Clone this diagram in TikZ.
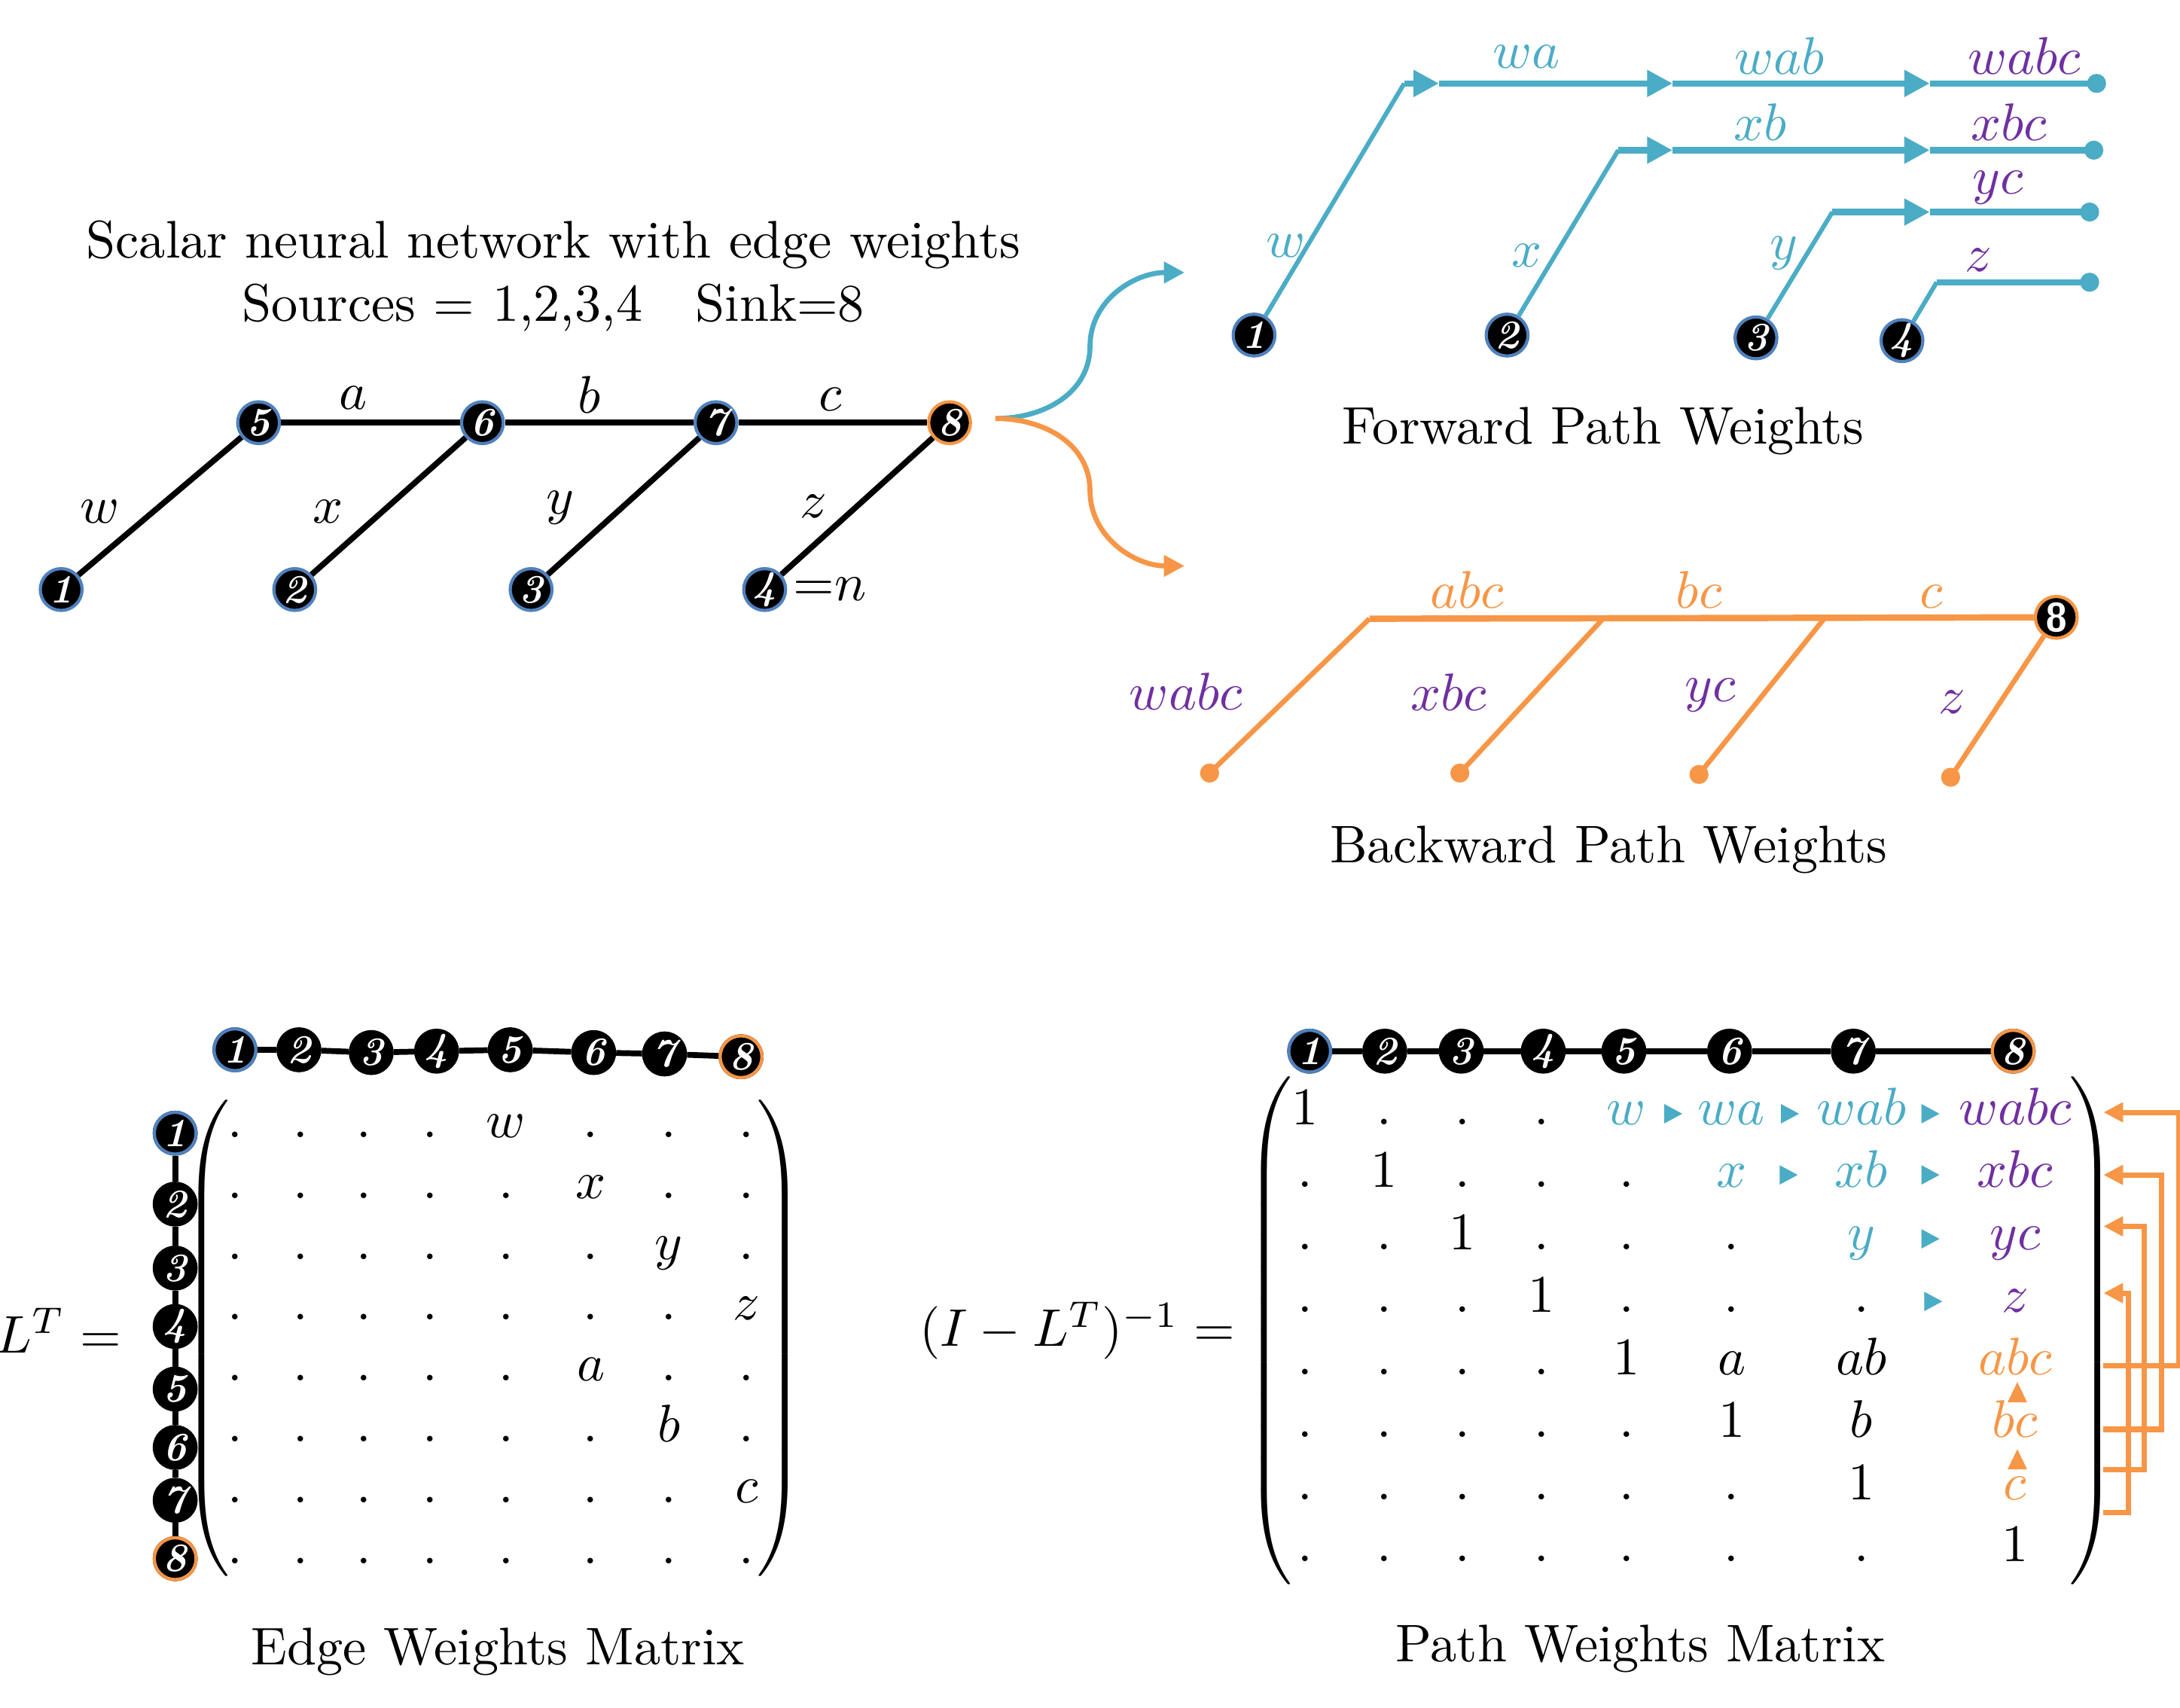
\documentclass[tikz,border=0pt]{standalone}
\usepackage{amsmath}
\usetikzlibrary{arrows.meta,calc}
\definecolor{fwdC}{RGB}{75,172,198}
\definecolor{bwdC}{RGB}{247,150,70}
\definecolor{prpC}{RGB}{112,48,160}
\definecolor{srcC}{RGB}{79,129,189}
\tikzset{
  vnode/.style    = {circle, fill=black, draw=black, line width=0.6pt, text=white,
                     font=\fontsize{7.6pt}{8pt}\selectfont\bfseries\itshape,
                     inner sep=0pt, minimum size=7.9pt},
  srcnode/.style  = {vnode, draw=srcC},
  snknode/.style  = {vnode, draw=bwdC},
  edge/.style     = {line width=1.1pt},
  fwdh/.style     = {fwdC, line width=1.2pt},
  fwdd/.style     = {fwdC, line width=0.85pt},
  fwdtip/.style   = {fwdh, -{Triangle[length=4.8pt,width=4.8pt]}},
  bwdh/.style     = {bwdC, line width=1.2pt},
  bwdd/.style     = {bwdC, line width=0.95pt},
  splitarrow/.style = {line width=0.95pt, -{Triangle[length=3.9pt,width=3.9pt]}},
  brk/.style      = {bwdC, line width=1pt, -{Triangle[length=3.7pt,width=3.6pt]}},
  cell/.style     = {anchor=base, inner sep=0pt},
  caption/.style  = {font=\normalsize},
  rtri/.pic       = {\fill[fwdC] (-6,-7) -- (7,0) -- (-6,7) -- cycle;},
  utri/.pic       = {\fill[bwdC] (-7,7) -- (0,-7.5) -- (7,7) -- cycle;},
}

\begin{document}
\begin{tikzpicture}[x=0.09234mm, y=-0.09234mm]
  \useasboundingbox (0,0) rectangle (1568,1228);

  % scalar network
  \node[align=center] (title) at (398,198.5)
    {Scalar neural network with edge weights\\ Sources $=$ 1,2,3,4\quad Sink=8};
  \node[srcnode] (n5) at (186,304) {5};
  \node[srcnode] (n6) at (347,304) {6};
  \node[srcnode] (n7) at (515,304) {7};
  \node[snknode] (n8) at (683,304) {8};
  \node[srcnode] (n1) at (44,424)  {1};
  \node[srcnode] (n2) at (212,424) {2};
  \node[srcnode] (n3) at (382,424) {3};
  \node[srcnode] (n4) at (550,424) {4};
  \draw[edge] (n5) -- (n6) -- (n7) -- (n8);
  \draw[edge] (n1) -- (n5);
  \draw[edge] (n2) -- (n6);
  \draw[edge] (n3) -- (n7);
  \draw[edge] (n4) -- (n8);
  \node (la) at (254,286) {$a$};
  \node (lb) at (424,284) {$b$};
  \node (lc) at (597,287) {$c$};
  \node (lw) at (72,368)  {$w$};
  \node (lx) at (236,368) {$x$};
  \node (ly) at (403,365) {$y$};
  \node (lz) at (585,364) {$z$};
  \node[anchor=west, inner sep=1pt] (ln) at (n4.east) {$\mathord{=}n$};

  % split arrows
  \coordinate (split) at (716,301);
  \coordinate (fmid) at (784,249);
  \coordinate (fend) at (852,196);
  \coordinate (bmid) at (784,353);
  \coordinate (bwend) at (852,407);
  \draw[splitarrow, fwdC] (split) .. controls (752,301) and (784,282) .. (fmid)
                            .. controls (784,216) and (816,196) .. (fend);
  \draw[splitarrow, bwdC] (split) .. controls (752,301) and (784,320) .. (bmid)
                            .. controls (784,386) and (816,407) .. (bwend);

  % forward path weights
  \node[srcnode] (F1) at (902,241)  {1};
  \node[srcnode] (F2) at (1084,241) {2};
  \node[srcnode] (F3) at (1263,243) {3};
  \node[srcnode] (F4) at (1368,245) {4};
  \coordinate (k1) at (1010,60);   \coordinate (e1) at (1508,60);
  \coordinate (k2) at (1164,108);  \coordinate (e2) at (1506,108);
  \coordinate (k3) at (1318,152.5);\coordinate (e3) at (1503,152.5);
  \coordinate (k4) at (1393,203);  \coordinate (e4) at (1503,203);
  \draw[fwdd] (F1) -- (k1);
  \draw[fwdd] (F2) -- (k2);
  \draw[fwdd] (F3) -- (k3);
  \draw[fwdd] (F4) -- (k4);
  \draw[fwdtip] (k1) -- (1035,60);
  \draw[fwdtip] (1035,60) -- (1203,60);
  \draw[fwdtip] (1203,60) -- (1388,60);
  \draw[fwdh] (1388,60) -- (e1);
  \draw[fwdtip] (k2) -- (1203,108);
  \draw[fwdtip] (1203,108) -- (1388,108);
  \draw[fwdh] (1388,108) -- (e2);
  \draw[fwdtip] (k3) -- (1388,152.5);
  \draw[fwdh] (1388,152.5) -- (e3);
  \draw[fwdh] (k4) -- (e4);
  \foreach \e in {e1,e2,e3,e4} \fill[fwdC] (\e) circle (1.8pt);
  \node[text=fwdC] (fw)    at (925,177)  {$w$};
  \node[text=fwdC] (fwa)   at (1098,41)  {$wa$};
  \node[text=fwdC] (fwab)  at (1280,40)  {$wab$};
  \node[text=prpC] (fwabc) at (1456,40)  {$wabc$};
  \node[text=fwdC] (fx)    at (1098,184) {$x$};
  \node[text=fwdC] (fxb)   at (1266,88)  {$xb$};
  \node[text=prpC] (fxbc)  at (1445,88)  {$xbc$};
  \node[text=fwdC] (fy)    at (1283,182) {$y$};
  \node[text=prpC] (fyc)   at (1437,135) {$yc$};
  \node[text=prpC] (fz)    at (1423,187) {$z$};
  \node[caption] (fcap) at (1153,310) {Forward Path Weights};

  % backward path weights
  \node[snknode, font=\fontsize{7.6pt}{8pt}\selectfont\bfseries\sffamily] (B8) at (1479,444) {8};
  \coordinate (j1) at (985,445);
  \coordinate (j2) at (1153,445);
  \coordinate (j3) at (1312,445);
  \coordinate (d1) at (870,556);
  \coordinate (d2) at (1050,556);
  \coordinate (d3) at (1222,557);
  \coordinate (d4) at (1403,559);
  \draw[bwdh] (j1) -- (B8);
  \draw[bwdd] (j1) -- (d1);
  \draw[bwdd] (j2) -- (d2);
  \draw[bwdd] (j3) -- (d3);
  \draw[bwdd] (B8) -- (d4);
  \foreach \d in {d1,d2,d3,d4} \fill[bwdC] (\d) circle (1.8pt);
  \node[text=bwdC] (babc)  at (1055,424) {$abc$};
  \node[text=bwdC] (bbc)   at (1222,424) {$bc$};
  \node[text=bwdC] (bc)    at (1389,429) {$c$};
  \node[text=prpC] (bwabc) at (853,497)  {$wabc$};
  \node[text=prpC] (bxbc)  at (1042,498) {$xbc$};
  \node[text=prpC] (byc)   at (1230,500) {$yc$};
  \node[text=prpC] (bz)    at (1404,505) {$z$};
  \node[caption] (bcap) at (1157,611) {Backward Path Weights};

  % edge weights matrix
  \foreach \c/\x in {1/169,2/216,3/262,4/309.5,5/364,6/425,7/481,8/537}
    \coordinate (ec\c) at (\x,0);
  \foreach \r/\y in {1/818,2/861.8,3/905.6,4/949.4,5/993.2,6/1037,7/1080.8,8/1124.6}
    \coordinate (er\r) at (0,\y);
  \foreach \c/\x/\y in {1/169/755,2/215/755,3/267/757,4/314/756,5/367/755,6/427/757,7/478/758,8/533/760}
    \node[vnode] (eh\c) at (\x,\y) {\c};
  \foreach \r/\y in {1/815,2/866,3/912,4/954,5/999,6/1041,7/1079,8/1121}
    \node[vnode] (ev\r) at (126,\y) {\r};
  \draw[edge] (eh1) -- (eh2) -- (eh3) -- (eh4) -- (eh5) -- (eh6) -- (eh7) -- (eh8);
  \draw[edge] (ev1) -- (ev2) -- (ev3) -- (ev4) -- (ev5) -- (ev6) -- (ev7) -- (ev8);
  \node[srcnode] at (eh1) {1};
  \node[snknode] at (eh8) {8};
  \node[srcnode] at (ev1) {1};
  \node[snknode] at (ev8) {8};
  \foreach \r/\cols in {1/{1,2,3,4,6,7,8},2/{1,2,3,4,5,7,8},3/{1,2,3,4,5,6,8},
                        4/{1,2,3,4,5,6,7},5/{1,2,3,4,5,7,8},6/{1,2,3,4,5,6,8},
                        7/{1,2,3,4,5,6,7},8/{1,2,3,4,5,6,7,8}}
    \foreach \c in \cols
      \node[cell] (e\r-\c) at (ec\c |- er\r) {$.$};
  \node[cell] (e1-5) at (ec5 |- er1) {$w$};
  \node[cell] (e2-6) at (ec6 |- er2) {$x$};
  \node[cell] (e3-7) at (ec7 |- er3) {$y$};
  \node[cell] (e4-8) at (ec8 |- er4) {$z$};
  \node[cell] (e5-6) at (ec6 |- er5) {$a$};
  \node[cell] (e6-7) at (ec7 |- er6) {$b$};
  \node[cell] (e7-8) at (ec8 |- er7) {$c$};
  \node[inner sep=0pt] (elp) at (151,962.5)
    {$\delimiterfactor=1000\delimitershortfall=0pt\left(\vcenter{\hrule height 90pt width 0pt}\right.$};
  \node[inner sep=0pt] (erp) at (559,962.5)
    {$\delimiterfactor=1000\delimitershortfall=0pt\left.\vcenter{\hrule height 90pt width 0pt}\right)$};
  \node (eLT) at (42,957) {$L^T =$};
  \node[caption] (ecap) at (358,1188) {Edge Weights Matrix};

  % path weights matrix
  \foreach \c/\x in {1/938.9,2/995.6,3/1052,4/1108.8,5/1169.8,6/1245.5,7/1338.9,8/1449.4}
    \coordinate (pc\c) at (\x,0);
  \foreach \r/\y in {1/809,2/853.9,3/898.8,4/943.7,5/988.6,6/1033.5,7/1078.4,8/1123.3}
    \coordinate (pr\r) at (0,\y);
  \foreach \c/\x in {1/942,2/996,3/1051,4/1110,5/1168,6/1244,7/1333,8/1448}
    \node[vnode] (ph\c) at (\x,756) {\c};
  \draw[edge] (ph1) -- (ph2) -- (ph3) -- (ph4) -- (ph5) -- (ph6) -- (ph7) -- (ph8);
  \node[srcnode] at (ph1) {1};
  \node[snknode] at (ph8) {8};
  \foreach \r/\cols in {1/{2,3,4},2/{1,3,4,5},3/{1,2,4,5,6},4/{1,2,3,5,6,7},
                        5/{1,2,3,4},6/{1,2,3,4,5},7/{1,2,3,4,5,6},8/{1,2,3,4,5,6,7}}
    \foreach \c in \cols
      \node[cell] (p\r-\c) at (pc\c |- pr\r) {$.$};
  \foreach \k in {1,...,8}
    \node[cell] (p\k-\k) at (pc\k |- pr\k) {$1$};
  \node[cell, text=fwdC] (p1-5) at (pc5 |- pr1) {$w$};
  \node[cell, text=fwdC] (p1-6) at (pc6 |- pr1) {$wa$};
  \node[cell, text=fwdC] (p1-7) at (pc7 |- pr1) {$wab$};
  \node[cell, text=prpC] (p1-8) at (pc8 |- pr1) {$wabc$};
  \node[cell, text=fwdC] (p2-6) at (pc6 |- pr2) {$x$};
  \node[cell, text=fwdC] (p2-7) at (pc7 |- pr2) {$xb$};
  \node[cell, text=prpC] (p2-8) at (pc8 |- pr2) {$xbc$};
  \node[cell, text=fwdC] (p3-7) at (pc7 |- pr3) {$y$};
  \node[cell, text=prpC] (p3-8) at (pc8 |- pr3) {$yc$};
  \node[cell, text=prpC] (p4-8) at (pc8 |- pr4) {$z$};
  \node[cell] (p5-6) at (pc6 |- pr5) {$a$};
  \node[cell] (p5-7) at (pc7 |- pr5) {$ab$};
  \node[cell, text=bwdC] (p5-8) at (pc8 |- pr5) {$abc$};
  \node[cell] (p6-7) at (pc7 |- pr6) {$b$};
  \node[cell, text=bwdC] (p6-8) at (pc8 |- pr6) {$bc$};
  \node[cell, text=bwdC] (p7-8) at (pc8 |- pr7) {$c$};
  \foreach \x/\y in {1203/801,1287/801,1388/801,1286/845,1388/845,1388/891,1390/936}
    \pic at (\x,\y) {rtri};
  \pic at (1451,1001.5) {utri};
  \pic at (1451,1049.8) {utri};
  \node[inner sep=0pt] (plp) at (915,957)
    {$\delimiterfactor=1000\delimitershortfall=0pt\left(\vcenter{\hrule height 92pt width 0pt}\right.$};
  \node[inner sep=0pt] (prp) at (1503,957)
    {$\delimiterfactor=1000\delimitershortfall=0pt\left.\vcenter{\hrule height 92pt width 0pt}\right)$};
  \node (pinv) at (775,957) {$(I - L^T)^{-1} =$};
  \node[caption] (pcap) at (1180,1186) {Path Weights Matrix};

  % feedback brackets
  \foreach \s/\t/\dx in {982/800/54,1028/845/41.5,1057/882/29,1088/930/18}
    \draw[brk] (1513,\s) -- ++(\dx,0) |- (1513,\t);
\end{tikzpicture}
\end{document}
